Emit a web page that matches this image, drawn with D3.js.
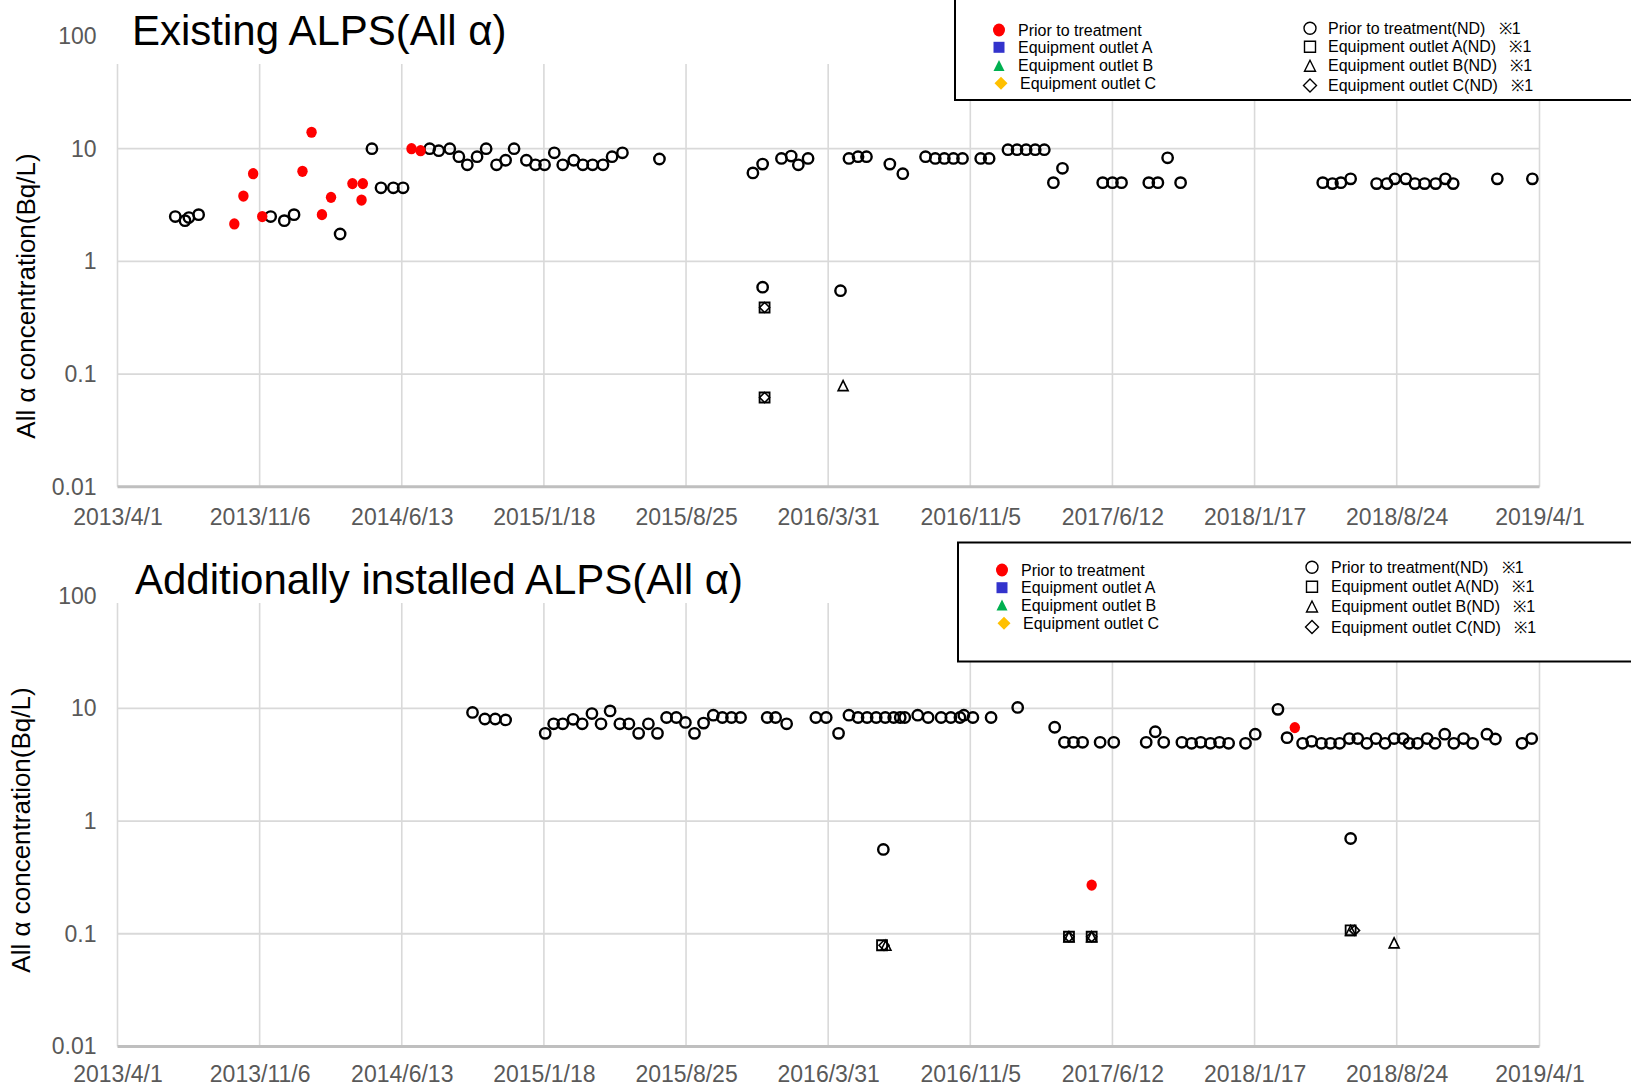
<!DOCTYPE html>
<html>
<head>
<meta charset="utf-8">
<script src="https://cdn.jsdelivr.net/npm/d3@7"></script>
<style>
  body { margin: 0; background: #fff; }
  text { font-family: "Liberation Sans", Arial, sans-serif; }
</style>
</head>
<body>
<div id="chart"></div>
<script>
// axis labels
var xTickLabels = ["2013/4/1", "2013/11/6", "2014/6/13", "2015/1/18", "2015/8/25", "2016/3/31",
  "2016/11/5", "2017/6/12", "2018/1/17", "2018/8/24", "2019/4/1"];
var yTicks = [0.01, 0.1, 1, 10, 100];
var yTitle = "All \u03b1 concentration(Bq/L)";

var legendLeft = ["Prior to treatment", "Equipment outlet A", "Equipment outlet B", "Equipment outlet C"];
var legendRight = ["Prior to treatment(ND)   \u203b1", "Equipment outlet A(ND)   \u203b1",
  "Equipment outlet B(ND)   \u203b1", "Equipment outlet C(ND)   \u203b1"];

// ---- Existing ALPS ----
var existingPrior = [["2013-09-28",2.15],["2013-10-12",3.8],["2013-10-27",6.0],["2013-11-10",2.5],
  ["2014-01-11",6.3],["2014-01-25",14],["2014-02-10",2.6],["2014-02-24",3.7],["2014-03-29",4.9],
  ["2014-04-12",3.5],["2014-04-14",4.9],["2014-06-28",10],["2014-07-12",9.6]];

var existingPriorND = [["2013-06-29",2.5],["2013-07-14",2.3],["2013-07-20",2.45],["2013-08-04",2.6],
  ["2013-11-23",2.5],["2013-12-14",2.3],["2013-12-29",2.6],["2014-03-10",1.75],["2014-04-28",10],
  ["2014-05-12",4.5],["2014-05-31",4.5],["2014-06-15",4.5],["2014-07-26",10],["2014-08-09",9.6],
  ["2014-08-26",10],["2014-09-09",8.5],["2014-09-22",7.2],["2014-10-07",8.5],["2014-10-21",10],
  ["2014-11-06",7.2],["2014-11-20",7.9],["2014-12-03",10],["2014-12-22",7.9],["2015-01-05",7.2],
  ["2015-01-19",7.2],["2015-02-03",9.2],["2015-02-16",7.2],["2015-03-05",7.9],["2015-03-19",7.2],
  ["2015-04-03",7.2],["2015-04-19",7.2],["2015-05-03",8.5],["2015-05-19",9.2],["2015-07-15",8.1],
  ["2015-12-06",6.1],["2015-12-21",7.3],["2015-12-21",0.59],["2016-01-19",8.2],["2016-02-03",8.6],
  ["2016-02-14",7.2],["2016-02-29",8.2],["2016-04-19",0.55],["2016-05-02",8.2],["2016-05-16",8.5],
  ["2016-05-29",8.5],["2016-07-04",7.3],["2016-07-24",6.0],["2016-08-28",8.5],["2016-09-12",8.2],
  ["2016-09-26",8.2],["2016-10-10",8.2],["2016-10-24",8.2],["2016-11-21",8.2],["2016-12-04",8.2],
  ["2017-01-02",9.8],["2017-01-16",9.8],["2017-01-30",9.8],["2017-02-13",9.8],["2017-02-27",9.8],
  ["2017-03-13",5.0],["2017-03-27",6.7],["2017-05-28",5.0],["2017-06-12",5.0],["2017-06-26",5.0],
  ["2017-08-07",5.0],["2017-08-21",5.0],["2017-09-05",8.3],["2017-09-25",5.0],["2018-05-02",5.0],
  ["2018-05-17",4.9],["2018-05-30",5.0],["2018-06-14",5.4],["2018-07-24",4.9],["2018-08-09",4.9],
  ["2018-08-21",5.4],["2018-09-07",5.4],["2018-09-21",4.9],["2018-10-06",4.9],["2018-10-23",4.9],
  ["2018-11-07",5.4],["2018-11-19",4.9],["2019-01-26",5.4],["2019-03-21",5.4]];

var existingOutletAND = [["2015-12-24",0.39],["2015-12-24",0.062]];
var existingOutletBND = [["2016-04-23",0.079]];
var existingOutletCND = [["2015-12-24",0.39],["2015-12-24",0.062]];

// ---- Additionally installed ALPS ----
var additionalPrior = [["2017-05-11",0.27],["2018-03-20",6.75]];

var additionalPriorND = [["2014-09-30",9.2],["2014-10-19",8.05],["2014-11-04",8.05],["2014-11-20",7.9],
  ["2015-01-20",6.0],["2015-02-02",7.3],["2015-02-16",7.3],["2015-03-04",8.0],["2015-03-18",7.3],
  ["2015-04-02",9.0],["2015-04-16",7.3],["2015-04-30",9.5],["2015-05-15",7.3],["2015-05-29",7.3],
  ["2015-06-13",6.0],["2015-06-28",7.3],["2015-07-12",6.0],["2015-07-26",8.3],["2015-08-10",8.3],
  ["2015-08-24",7.5],["2015-09-07",6.0],["2015-09-21",7.4],["2015-10-06",8.7],["2015-10-20",8.3],
  ["2015-11-03",8.3],["2015-11-17",8.3],["2015-12-28",8.3],["2016-01-10",8.3],["2016-01-27",7.3],
  ["2016-03-12",8.3],["2016-03-28",8.3],["2016-04-16",6.0],["2016-05-02",8.7],["2016-05-16",8.3],
  ["2016-05-30",8.3],["2016-06-13",8.3],["2016-06-27",8.3],["2016-07-10",8.3],["2016-07-20",8.3],
  ["2016-07-27",8.3],["2016-08-16",8.7],["2016-09-01",8.3],["2016-09-21",8.3],["2016-10-06",8.3],
  ["2016-10-20",8.3],["2016-10-26",8.7],["2016-11-09",8.3],["2016-12-07",8.3],["2017-01-17",10.2],
  ["2017-03-15",6.8],["2017-03-30",5.0],["2017-04-13",5.0],["2017-04-27",5.0],["2017-05-24",5.0],
  ["2017-06-14",5.0],["2017-08-03",5.0],["2017-08-17",6.2],["2017-08-30",5.0],["2017-09-27",5.0],
  ["2017-10-12",4.9],["2017-10-26",5.0],["2017-11-10",4.9],["2017-11-24",5.0],["2017-12-08",4.9],
  ["2018-01-03",4.9],["2018-01-18",5.9],["2018-02-22",9.8],["2018-03-08",5.5],["2018-04-01",4.9],
  ["2018-04-15",5.1],["2018-04-30",4.9],["2018-05-14",4.9],["2018-05-28",4.9],["2018-06-12",5.4],
  ["2018-06-25",5.4],["2018-07-09",4.9],["2018-07-23",5.4],["2018-08-06",4.9],["2018-08-20",5.4],
  ["2018-09-03",5.4],["2018-09-12",4.9],["2018-09-25",4.9],["2018-10-10",5.4],["2018-10-22",4.9],
  ["2018-11-06",5.9],["2018-11-20",4.9],["2018-12-05",5.4],["2018-12-19",4.9],["2019-01-10",5.9],
  ["2019-01-23",5.35],["2019-03-05",4.9],["2019-03-20",5.4],["2016-06-24",0.56],["2018-06-14",0.70]];

var additionalOutletAND = [["2016-06-22",0.079],["2017-04-06",0.094],["2017-05-11",0.094],["2018-06-14",0.107]];
var additionalOutletBND = [["2016-06-28",0.079],["2017-04-06",0.094],["2017-05-11",0.094],["2018-06-14",0.107],["2018-08-20",0.083]];
var additionalOutletCND = [["2016-06-25",0.079],["2017-04-06",0.094],["2017-05-11",0.094],["2018-06-20",0.107]];

var width = 1631, height = 1086;
var parseDay = d3.timeParse("%Y-%m-%d");
var parseTick = d3.timeParse("%Y/%m/%d");

var svg = d3.select("#chart").append("svg")
  .attr("width", width)
  .attr("height", height);

var x = d3.scaleTime()
  .domain([parseTick(xTickLabels[0]), parseTick(xTickLabels[xTickLabels.length - 1])])
  .range([117.5, 1539.5]);

// marker shapes (hollow)
function squarePath(s) { return "M" + (-s) + "," + (-s) + "H" + s + "V" + s + "H" + (-s) + "Z"; }
function trianglePath(s) { return "M0," + (-s) + "L" + s + "," + s + "H" + (-s) + "Z"; }
function diamondPath(s) { return "M0," + (-s) + "L" + s + ",0L0," + s + "L" + (-s) + ",0Z"; }

function drawPanel(p) {
  var y = d3.scaleLog().domain([0.01, 100]).range([p.bottom, p.top]);
  var g = svg.append("g");

  // vertical gridlines
  g.selectAll(".vgrid").data(xTickLabels).enter().append("line")
    .attr("x1", function(d){ return x(parseTick(d)); })
    .attr("x2", function(d){ return x(parseTick(d)); })
    .attr("y1", p.gridTop).attr("y2", p.bottom)
    .attr("stroke", "#d9d9d9").attr("stroke-width", 1.6);

  // horizontal gridlines (not at 0.01 or 100)
  g.selectAll(".hgrid").data(yTicks.filter(function(d){ return d > 0.01 && d < 100; })).enter().append("line")
    .attr("x1", x.range()[0]).attr("x2", x.range()[1])
    .attr("y1", function(d){ return y(d); }).attr("y2", function(d){ return y(d); })
    .attr("stroke", "#d9d9d9").attr("stroke-width", 1.8);

  // bottom axis line
  g.append("line")
    .attr("x1", x.range()[0]).attr("x2", x.range()[1])
    .attr("y1", p.bottom).attr("y2", p.bottom)
    .attr("stroke", "#bfbfbf").attr("stroke-width", 3);

  // y axis labels
  var ya = g.append("g")
    .attr("transform", "translate(" + x.range()[0] + ",0)")
    .call(d3.axisLeft(y).tickValues(yTicks).tickSize(0).tickPadding(21)
      .tickFormat(function(d){ return String(d); }));
  ya.select(".domain").remove();
  ya.selectAll("text").attr("fill", "#595959").style("font-size", "23px")
    .style("font-family", "'Liberation Sans', Arial, sans-serif");

  // x axis labels
  var xa = g.append("g")
    .attr("transform", "translate(0," + p.bottom + ")")
    .call(d3.axisBottom(x).tickValues(xTickLabels.map(parseTick)).tickSize(0).tickPadding(p.xPad)
      .tickFormat(function(d, i){ return xTickLabels[i]; }));
  xa.select(".domain").remove();
  xa.selectAll("text").attr("fill", "#595959").style("font-size", "23px")
    .style("font-family", "'Liberation Sans', Arial, sans-serif");

  // y title
  g.append("text")
    .attr("transform", "translate(" + p.yTitleX + "," + p.yTitleY + ") rotate(-90)")
    .attr("text-anchor", "middle").attr("dominant-baseline", "central")
    .style("font-size", "26px").attr("fill", "#000")
    .text(yTitle);

  // chart title
  g.append("text")
    .attr("x", p.titleX).attr("y", p.titleY)
    .style("font-size", "42px").attr("fill", "#000")
    .text(p.title);

  var px = function(d){ return x(parseDay(d[0])); };
  var py = function(d){ return y(d[1]); };

  // ND markers (hollow)
  g.selectAll(".sqA").data(p.aND).enter().append("path")
    .attr("d", squarePath(5)).attr("transform", function(d){ return "translate(" + px(d) + "," + py(d) + ")"; })
    .attr("fill", "none").attr("stroke", "#000").attr("stroke-width", 1.8);
  g.selectAll(".triB").data(p.bND).enter().append("path")
    .attr("d", trianglePath(5)).attr("transform", function(d){ return "translate(" + px(d) + "," + py(d) + ")"; })
    .attr("fill", "none").attr("stroke", "#000").attr("stroke-width", 1.6);
  g.selectAll(".diaC").data(p.cND).enter().append("path")
    .attr("d", diamondPath(5)).attr("transform", function(d){ return "translate(" + px(d) + "," + py(d) + ")"; })
    .attr("fill", "none").attr("stroke", "#000").attr("stroke-width", 1.6);

  g.selectAll(".nd").data(p.priorND).enter().append("circle")
    .attr("cx", px).attr("cy", py).attr("r", 5.2)
    .attr("fill", "none").attr("stroke", "#000").attr("stroke-width", 2.4);

  g.selectAll(".prior").data(p.prior).enter().append("ellipse")
    .attr("cx", px).attr("cy", py).attr("rx", 5.2).attr("ry", 5.6)
    .attr("fill", "#ff0000");

  // legend
  var L = p.legend;
  g.append("rect")
    .attr("x", L.x).attr("y", L.y).attr("width", 760).attr("height", L.h)
    .attr("fill", "#fff").attr("stroke", "#000").attr("stroke-width", 2);

  var solid = [
    function(s){ s.append("ellipse").attr("rx", 6).attr("ry", 6.5).attr("fill", "#ff0000"); },
    function(s){ s.append("path").attr("d", squarePath(5.5)).attr("fill", "#3333cc"); },
    function(s){ s.append("path").attr("d", trianglePath(5.5)).attr("fill", "#00b050"); },
    function(s){ s.append("path").attr("d", diamondPath(6.5)).attr("fill", "#ffc000"); }
  ];
  var hollow = [
    function(s){ s.append("circle").attr("r", 6).attr("fill", "none").attr("stroke", "#000").attr("stroke-width", 1.4); },
    function(s){ s.append("path").attr("d", squarePath(5.5)).attr("fill", "none").attr("stroke", "#000").attr("stroke-width", 1.4); },
    function(s){ s.append("path").attr("d", trianglePath(5.5)).attr("fill", "none").attr("stroke", "#000").attr("stroke-width", 1.4); },
    function(s){ s.append("path").attr("d", diamondPath(6.5)).attr("fill", "none").attr("stroke", "#000").attr("stroke-width", 1.4); }
  ];
  legendLeft.forEach(function(label, i){
    var mx = L.lmx + (i === 3 ? 2 : 0);
    var m = g.append("g").attr("transform", "translate(" + mx + "," + L.lrows[i] + ")");
    solid[i](m);
    g.append("text").attr("x", L.ltx + (i === 3 ? 2 : 0)).attr("y", L.lrows[i])
      .attr("dominant-baseline", "central").style("font-size", "16px").attr("fill", "#000")
      .text(label);
  });
  legendRight.forEach(function(label, i){
    var m = g.append("g").attr("transform", "translate(" + L.rmx + "," + L.rrows[i] + ")");
    hollow[i](m);
    g.append("text").attr("x", L.rtx).attr("y", L.rrows[i])
      .attr("dominant-baseline", "central").style("font-size", "16px").style("white-space", "pre")
      .attr("fill", "#000")
      .text(label);
  });
}

drawPanel({
  title: "Existing ALPS(All \u03b1)", titleX: 132, titleY: 45,
  top: 36, bottom: 486.8, gridTop: 64, xPad: 22,
  yTitleX: 26, yTitleY: 296,
  prior: existingPrior, priorND: existingPriorND,
  aND: existingOutletAND, bND: existingOutletBND, cND: existingOutletCND,
  legend: { x: 955, y: -6, h: 106, lmx: 999, ltx: 1018, lrows: [30, 47.3, 65.5, 83.3],
            rmx: 1310, rtx: 1328, rrows: [28.3, 46.7, 65.7, 85.5] }
});

drawPanel({
  title: "Additionally installed ALPS(All \u03b1)", titleX: 135, titleY: 594,
  top: 595.7, bottom: 1046.4, gridTop: 603, xPad: 19,
  yTitleX: 20.5, yTitleY: 830,
  prior: additionalPrior, priorND: additionalPriorND,
  aND: additionalOutletAND, bND: additionalOutletBND, cND: additionalOutletCND,
  legend: { x: 958, y: 542.5, h: 119, lmx: 1002, ltx: 1021, lrows: [570, 587.7, 605, 623.3],
            rmx: 1312, rtx: 1331, rrows: [567.3, 586.7, 606.5, 627] }
});
</script>
</body>
</html>
